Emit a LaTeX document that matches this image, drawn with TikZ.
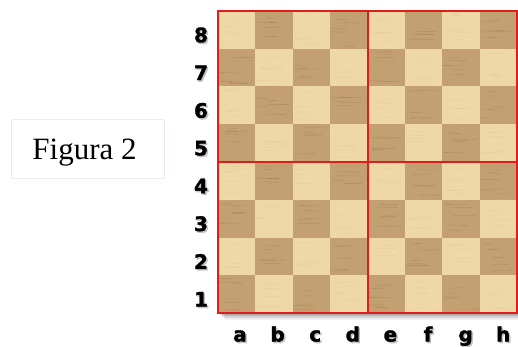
\documentclass[tikz,border=0pt]{standalone}
\usepackage{fontspec}
\setmainfont{Liberation Serif}
\newfontfamily\labfont{DejaVu Sans}[BoldFeatures={FakeBold=1.6}]
\definecolor{lightsq}{RGB}{239,216,168}
\definecolor{darksq}{RGB}{194,160,114}
\definecolor{boardred}{RGB}{225,28,28}
\definecolor{boxedge}{RGB}{232,238,245}
\tikzset{
  coordlab/.style={font=\labfont\bfseries\fontsize{20}{20}\selectfont, text=black, inner sep=0pt},
  coordshadow/.style={font=\labfont\bfseries\fontsize{20}{20}\selectfont, text=black!55, opacity=0.4, inner sep=0pt},
  redline/.style={draw=boardred, line width=2pt},
  figbox/.style={draw=boxedge, line width=0.8pt, fill=white},
  grain/.style={line width=0.6pt, opacity=0.18}
}
\begin{document}
\begin{tikzpicture}[x=1pt,y=-1pt]
\useasboundingbox (0,0) rectangle (518,347);
% board shadow
\foreach \o/\op in {7/0.04,6/0.05,5/0.06,4/0.07,3/0.08,2/0.1}
  \fill[black,opacity=\op] (218+\o,11+\o) rectangle (517+\o,313+\o);
% squares
\pgfmathsetseed{7}
\foreach \c in {0,...,7}{
  \foreach \r in {0,...,7}{
    \pgfmathtruncatemacro{\sqpar}{mod(\c+\r,2)}
    \pgfmathsetmacro{\xa}{218+\c*37.375}
    \pgfmathsetmacro{\ya}{11+\r*37.75}
    \ifnum\sqpar=0
      \fill[lightsq] (\xa,\ya) rectangle ({\xa+37.375},{\ya+37.75});
      \foreach \k in {1,...,5}{
        \pgfmathsetmacro{\gy}{\ya+3+rnd*32}
        \pgfmathsetmacro{\gx}{\xa+rnd*14}
        \draw[grain,draw=brown!70!white] (\gx,\gy) -- ({\gx+8+rnd*16},{\gy+rnd*1.2-0.6});
      }
    \else
      \fill[darksq] (\xa,\ya) rectangle ({\xa+37.375},{\ya+37.75});
      \foreach \k in {1,...,5}{
        \pgfmathsetmacro{\gy}{\ya+3+rnd*32}
        \pgfmathsetmacro{\gx}{\xa+rnd*14}
        \draw[grain,draw=brown!60!black] (\gx,\gy) -- ({\gx+8+rnd*16},{\gy+rnd*1.2-0.6});
      }
    \fi
  }
}
% red lines
\coordinate (tl) at (218,11);
\coordinate (br) at (517,313);
\coordinate (tm) at (367.5,11);
\coordinate (bm) at (367.5,313);
\coordinate (lm) at (218,162);
\coordinate (rm) at (517,162);
\draw[redline] (tm) -- (bm);
\draw[redline] (lm) -- (rm);
\draw[redline] (tl) rectangle (br);
% rank labels
\foreach \n [count=\i from 0] in {8,7,6,5,4,3,2,1}{
  \node[coordshadow] at ({201+1.5},{35+\i*37.75+1.5}) {\n};
  \node[coordlab] (rank\n) at (201,{35+\i*37.75}) {\n};
}
% file labels
\foreach \f [count=\i from 0] in {a,b,c,d,e,f,g,h}{
  \node[coordshadow,anchor=base] at ({240+\i*37.6+1.5},{341.5+1.5}) {\f};
  \node[coordlab,anchor=base] (file\f) at ({240+\i*37.6},341.5) {\f};
}
% figure box
\node[figbox, minimum width=153pt, minimum height=59pt, inner sep=0pt] (figbox) at (87.5,148.5) {};
\node[font=\fontsize{31}{31}\selectfont, anchor=base, inner sep=0pt] (figlabel) at (84.5,159.5) {Figura 2};
\end{tikzpicture}
\end{document}
